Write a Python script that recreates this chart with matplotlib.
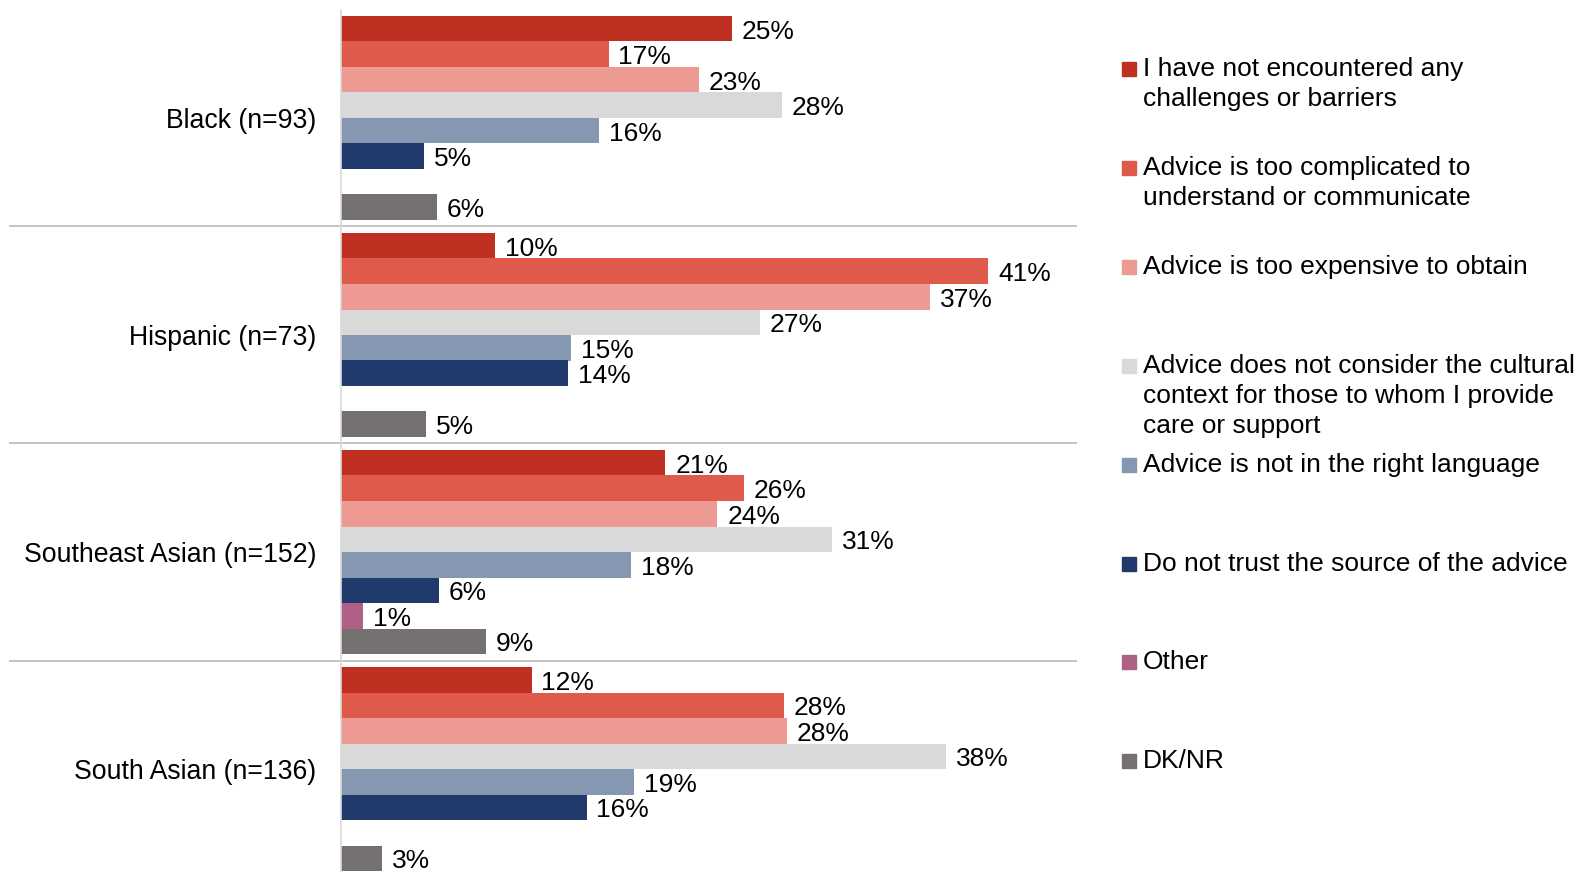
import matplotlib.pyplot as plt
import numpy as np

plt.rcParams['font.family'] = ['Liberation Sans', 'DejaVu Sans']

groups = ["Black (n=93)", "Hispanic (n=73)", "Southeast Asian (n=152)", "South Asian (n=136)"]

categories = [
    "I have not encountered any\nchallenges or barriers",
    "Advice is too complicated to\nunderstand or communicate",
    "Advice is too expensive to obtain",
    "Advice does not consider the cultural\ncontext for those to whom I provide\ncare or support",
    "Advice is not in the right language",
    "Do not trust the source of the advice",
    "Other",
    "DK/NR",
]

# one list per answer, values in group order (labels are rounded)
not_encountered = [24.8, 9.8, 20.6, 12.1]
too_complicated = [17.0, 41.1, 25.6, 28.1]
too_expensive = [22.7, 37.4, 23.9, 28.3]
no_cultural = [28.0, 26.6, 31.2, 38.4]
wrong_language = [16.4, 14.6, 18.4, 18.6]
no_trust = [5.3, 14.4, 6.2, 15.6]
other = [0, 0, 1.4, 0]
dk_nr = [6.1, 5.4, 9.2, 2.6]

series = [not_encountered, too_complicated, too_expensive, no_cultural,
          wrong_language, no_trust, other, dk_nr]

colors = ["#BF2F22", "#E05A4B", "#EC9A92", "#D9D9D9",
          "#8697B2", "#1F3A6B", "#AE6086", "#767171"]

W, H = 1583, 872
fig = plt.figure(figsize=(W / 100, H / 100), dpi=100)

# axes box in pixels
ax_left, ax_right, ax_top = 341, 1076, 10
ax = fig.add_axes([ax_left / W, 0, (ax_right - ax_left) / W, (H - ax_top) / H])

slot = 25.5          # px per bar
gstep = 217 / slot   # group spacing in bar units
pxper = 15.75        # px per percent

group_start = np.arange(len(groups)) * gstep
for k, vals in enumerate(series):
    y = group_start + k + 0.5
    bars = ax.barh(y, vals, height=1.0, color=colors[k], linewidth=0)
    labels = [f"{v:.0f}%" if v > 0 else "" for v in vals]
    anns = ax.bar_label(bars, labels=labels, padding=7, fontsize=19, color="#000000")
    for a in anns:
        a.xyann = (7, -2.2)

ax.set_xlim(0, (ax_right - ax_left) / pxper)
ax.set_ylim((H - 16) / slot, -6 / slot)

ax.set_yticks(group_start + 4)
ax.set_yticklabels(groups, fontsize=19.2)
ax.tick_params(axis='y', length=0, pad=18)
ax.set_xticks([])

for s in ['top', 'right', 'bottom']:
    ax.spines[s].set_visible(False)
ax.spines['left'].set_color("#D9D9D9")
ax.spines['left'].set_linewidth(1.2)

# separators between groups
xmin = (10 - ax_left) / (ax_right - ax_left)
for g in range(1, len(groups)):
    ax.axhline(g * gstep - (gstep - 8) / 2, xmin=xmin, xmax=1.0,
               color="#BFBFBF", lw=1.3, clip_on=False)

# legend drawn by hand, evenly spaced entries
for i, (lab, c) in enumerate(zip(categories, colors)):
    yc = 69 + 98.9 * i
    fig.patches.append(plt.Rectangle((1122 / W, 1 - (yc + 7) / H), 14 / W, 14 / H,
                                     transform=fig.transFigure, color=c))
    for j, line in enumerate(lab.split("\n")):
        fig.text(1143 / W, 1 - (yc + 30 * j) / H, line, fontsize=19,
                 va='center', ha='left')

fig.savefig("out.png", dpi=100)
